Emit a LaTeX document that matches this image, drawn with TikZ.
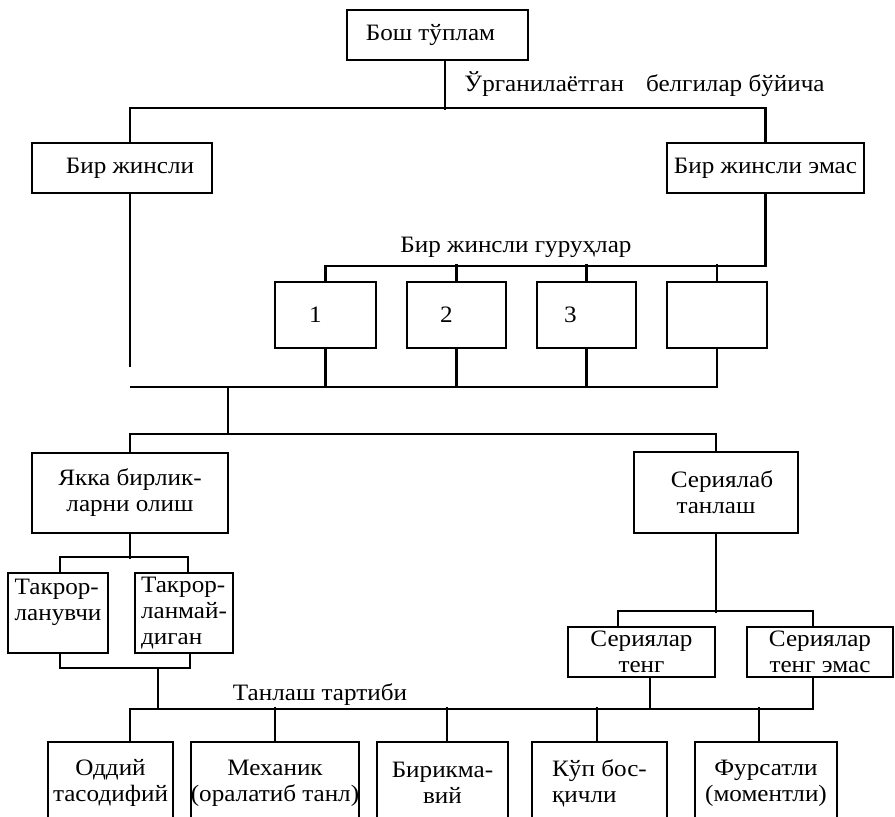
\documentclass[tikz,border=0pt]{standalone}
\usepackage{fontspec}
\setmainfont{Liberation Serif}[FakeStretch=1.07]
\begin{document}
\begin{tikzpicture}[x=1pt, y=-1pt, line width=2.3pt,
  box/.style={draw, align=center, inner sep=1pt, font=\fontsize{23.5}{26}\selectfont},
  lbl/.style={font=\fontsize{23.5}{26}\selectfont}]
\useasboundingbox (0,0) rectangle (895,817);
\clip (0,0) rectangle (895,817);

\node[box, minimum width=181pt, minimum height=50pt] (top) at (437.5,35) {Бош тўплам\hspace*{14pt}};
\node[lbl, anchor=base west] (crit) at (460,91) {Ўрганилаётган\hspace{22pt}белгилар бўйича};
\node[box, minimum width=180pt, minimum height=50pt] (bj) at (122,168) {\hspace*{16pt}Бир жинсли};
\node[box, minimum width=197pt, minimum height=50pt] (bje) at (765.5,168) {Бир жинсли эмас};

\node[lbl, anchor=base] (grp) at (516,252) {Бир жинсли гуруҳлар};
\node[box, minimum width=101pt, minimum height=66pt] (g1) at (325.5,315) {1\hspace*{20pt}};
\node[box, minimum width=99pt, minimum height=66pt] (g2) at (456.5,315) {2\hspace*{20pt}};
\node[box, minimum width=99pt, minimum height=66pt] (g3) at (586.5,315) {3\hspace*{32pt}};
\node[box, minimum width=100pt, minimum height=66pt] (g4) at (717,315) {};

\node[box, minimum width=196pt, minimum height=80pt] (yakka) at (130,493) {Якка бирлик-\\ларни олиш};
\node[box, minimum width=164pt, minimum height=81pt] (seria) at (716,492.5) {\hspace*{12pt}Сериялаб\\танлаш};

\node[box, align=left, inner sep=0pt, minimum width=100pt, minimum height=80pt] (tak1) at (58,613) {Такрор-\\ланувчи\\~};
\node[box, align=left, inner sep=0pt, minimum width=98pt, minimum height=80pt] (tak2) at (184,613) {Такрор-\\ланмай-\\диган};

\node[box, minimum width=147pt, minimum height=50pt] (st) at (641.5,652) {Сериялар\\тенг};
\node[box, minimum width=146pt, minimum height=50pt] (ste) at (820,652) {Сериялар\\тенг эмас};

\node[lbl, anchor=base] (ord) at (320,700) {Танлаш тартиби};
\node[box, inner sep=0pt, minimum width=125pt, minimum height=82pt] (b1) at (110.5,783) {Оддий\\тасодифий};
\node[box, inner sep=0pt, minimum width=160pt, minimum height=82pt] (b2) at (275,783) {Механик\\(оралатиб танл)};
\node[box, inner sep=0pt, minimum width=131pt, minimum height=82pt] (b3) at (442.5,783) {Бирикма-\\вий};
\node[box, align=left, inner sep=0pt, minimum width=135pt, minimum height=82pt] (b4) at (599.5,783) {Кўп бос-\\қичли};
\node[box, inner sep=0pt, minimum width=142pt, minimum height=82pt] (b5) at (766,783) {Фурсатли\\(моментли)};

% split by the features
\draw ([xshift=7.5pt]top.south) -- ++(0,49);
\draw ([xshift=8pt]bj.north) -- ++(0,-34) -| (bje.north);
\coordinate (gap) at (130,367);
\draw ([xshift=8pt]bj.south) -- (gap);

% groups
\draw (bje.south) -- ++(0,72) -| (g1.north);
\foreach \g in {g2,g3,g4} \draw (\g.north) -- ++(0,-17);
\coordinate (join) at (130,387);
\draw (g4.south) |- (join);
\foreach \g in {g1,g2,g3} \draw (\g.south) -- (\g.south |- join);
\coordinate (mid) at (228,387);
\draw (mid) -- ++(0,48);
\draw (yakka.north) -- ++(0,-18) -| (seria.north);

% individual units
\draw (yakka.south) -- ++(0,25);
\draw ([xshift=2pt]tak1.north) -- ++(0,-15) -| ([xshift=4pt]tak2.north);
\draw ([xshift=2pt]tak1.south) -- ++(0,14) -| ([xshift=6pt]tak2.south);
\coordinate (tk) at (158,667);
\draw (tk) -- ++(0,41);

% series
\draw (seria.south) -- ++(0,79);
\draw ([xshift=-23.5pt]st.north) -- ++(0,-15) -| ([xshift=-7pt]ste.north);
\draw ([xshift=8.5pt]st.south) -- ++(0,31);

% order of selection
\draw ([xshift=-7pt]ste.south) -- ++(0,31) -| ([xshift=19.5pt]b1.north);
\foreach \b/\s in {b2/0,b3/4.5,b4/-2.5,b5/-7} \draw ([xshift=\s pt]\b.north) -- ++(0,-34);
\end{tikzpicture}
\end{document}
